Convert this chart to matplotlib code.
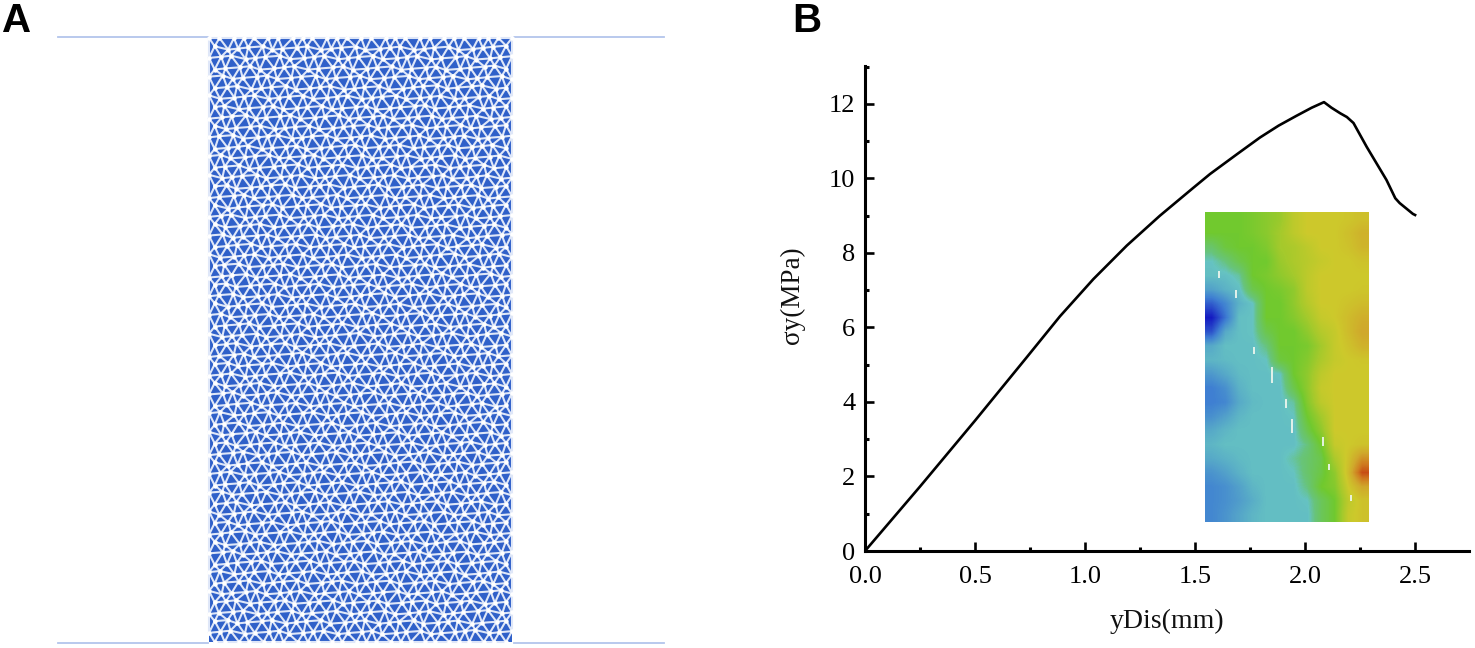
import numpy as np
import matplotlib
matplotlib.use("Agg")
import matplotlib.pyplot as plt
import matplotlib.tri as mtri
from matplotlib.colors import LinearSegmentedColormap

# curve
ydis = [0.0, 0.25, 0.5, 0.576, 0.735, 0.886, 1.038, 1.19, 1.34, 1.49, 1.568, 1.69, 1.795, 1.88, 1.96, 2.03,
        2.086, 2.12, 2.16, 2.19, 2.22, 2.28, 2.37, 2.41, 2.43, 2.49, 2.5]
sigma = [0.0, 1.73, 3.5, 4.05, 5.2, 6.3, 7.3, 8.2, 9.0, 9.74, 10.12, 10.65, 11.1, 11.42, 11.68, 11.9,
         12.05, 11.9, 11.75, 11.65, 11.49, 10.85, 9.96, 9.47, 9.34, 9.05, 9.02]
xticks = [0.0, 0.5, 1.0, 1.5, 2.0, 2.5]
yticks = [0, 2, 4, 6, 8, 10, 12]

# inset field, rough values by eye (0 dark blue .. 1 red)
field = [
    [.50, .50, .50, .52, .55, .58, .66, .70, .70, .70, .71, .73],
    [.50, .50, .50, .52, .55, .60, .66, .70, .70, .70, .73, .77],
    [.42, .48, .50, .50, .53, .60, .62, .66, .70, .70, .72, .76],
    [.36, .40, .46, .50, .50, .58, .62, .65, .68, .70, .70, .72],
    [.35, .35, .38, .50, .52, .56, .60, .66, .70, .70, .70, .70],
    [.28, .32, .35, .46, .50, .52, .56, .66, .70, .70, .70, .71],
    [.14, .22, .32, .36, .50, .50, .56, .64, .70, .70, .72, .74],
    [.02, .18, .35, .36, .50, .50, .54, .60, .68, .70, .74, .78],
    [.12, .30, .35, .36, .46, .50, .50, .56, .64, .68, .74, .80],
    [.30, .35, .35, .35, .40, .50, .50, .52, .60, .68, .72, .77],
    [.33, .34, .35, .35, .36, .48, .50, .54, .62, .68, .70, .71],
    [.26, .30, .34, .35, .35, .36, .50, .56, .66, .70, .70, .70],
    [.20, .24, .32, .35, .35, .35, .46, .56, .68, .70, .70, .70],
    [.20, .22, .30, .34, .35, .35, .38, .54, .66, .70, .70, .70],
    [.24, .28, .33, .35, .35, .35, .36, .50, .60, .70, .70, .70],
    [.30, .33, .35, .35, .35, .35, .35, .46, .56, .70, .70, .70],
    [.33, .35, .35, .35, .35, .35, .35, .40, .50, .68, .70, .72],
    [.30, .32, .34, .35, .35, .35, .38, .42, .46, .62, .72, .85],
    [.25, .28, .32, .35, .35, .35, .36, .42, .47, .56, .74, .97],
    [.22, .24, .28, .33, .35, .35, .35, .40, .50, .54, .70, .80],
    [.22, .24, .27, .31, .35, .35, .35, .36, .44, .50, .66, .72],
    [.22, .25, .29, .33, .35, .35, .35, .35, .44, .50, .68, .72],
]
# pale cracks along the front, in field cells (col, row top, row bottom)
crack_col = [0.5, 1.8, 3.1, 4.4, 5.4, 5.9, 8.1, 8.6, 10.2]
crack_top = [3.7, 5.0, 9.1, 10.5, 12.8, 14.2, 15.5, 17.4, 19.6]
crack_bot = [4.2, 5.6, 9.6, 11.6, 13.4, 15.2, 16.1, 17.8, 20.0]

W, H = 1475, 648

def box(x0, y0, x1, y1):
    # pixel box (y down) to figure fractions
    return [x0 / W, 1 - y1 / H, (x1 - x0) / W, (y1 - y0) / H]

plt.rcParams["font.family"] = ["Liberation Serif", "DejaVu Sans"]
fig = plt.figure(figsize=(14.75, 6.48), dpi=100)

# panel A, mesh texture in pixel coordinates
axa = fig.add_axes([0, 0, 1, 1])
axa.set_xlim(0, W)
axa.set_ylim(H, 0)
axa.axis("off")

step = 11.4
px = []
py = []
k = 0
rows = int(604 / (step * 0.87)) + 1
for r in range(rows + 1):
    yy = 38 + 604 * r / rows
    cols = int(303 / step)
    for c in range(cols + 1):
        xx = 209 + 303 * c / cols + (step / 2 if r % 2 else 0)
        k = k + 1
        if xx > 512:
            continue
        # golden ratio jitter, interior nodes only
        jx = ((k * 0.618034) % 1 - 0.5) * 4.5
        jy = ((k * 0.754878) % 1 - 0.5) * 4.5
        if c == 0 or xx + step > 512:
            jx = 0
        if r == 0 or r == rows:
            jy = 0
        px.append(min(xx + jx, 512))
        py.append(yy + jy)
tri = mtri.Triangulation(px, py)
axa.fill([209, 512, 512, 209], [38, 38, 642, 642], color="#2f60c9", lw=0, zorder=1)
axa.triplot(tri, color="#dfe7f8", lw=1.5, zorder=2)
axa.plot(px, py, "o", color="white", ms=3.2, mew=0, zorder=3)

line_col = "#b3c5ec"
axa.plot([58, 208], [37, 37], color=line_col, lw=1.3)
axa.plot([514, 664], [37, 37], color=line_col, lw=1.3)
axa.plot([58, 208], [643, 643], color=line_col, lw=1.3)
axa.plot([514, 664], [643, 643], color=line_col, lw=1.3)

fig.text(2 / W, 1 - 32 / H, "A", family="Liberation Sans", weight="bold", fontsize=29, color="black")
fig.text(792 / W, 1 - 32 / H, "B", family="Liberation Sans", weight="bold", fontsize=29, color="black")

# panel B
ax = fig.add_axes(box(865, 66, 1469, 551))
ax.patch.set_alpha(0)
ax.plot(ydis, sigma, color="black", lw=1.9, solid_joinstyle="round")
ax.set_xlim(0, 2.745)
ax.set_ylim(0, 13.02)
ax.spines["top"].set_visible(False)
ax.spines["right"].set_visible(False)
ax.spines["left"].set_linewidth(2.2)
ax.spines["bottom"].set_linewidth(2.2)
ax.set_xticks(xticks)
ax.set_xticklabels(["%.1f" % v for v in xticks])
ax.set_yticks(yticks)
ax.set_xticks(np.arange(0.25, 2.75, 0.5), minor=True)
ax.set_yticks(np.arange(1, 14, 2), minor=True)
ax.tick_params(which="major", direction="in", length=6.5, width=1.9, labelsize=19, pad=11, colors="black")
ax.tick_params(which="minor", direction="in", length=3, width=2.2)
ax.tick_params(axis="y", which="major", pad=7)

fig.text(1167 / W, 1 - 621 / H, "yDis(mm)", ha="center", va="center", fontsize=20, color="#111111")
fig.text(792 / W, 1 - 295 / H, "σy(MPa)", ha="center", va="center", rotation=90, fontsize=19.5, color="#111111")

# inset contour picture
cols_map = [(0.0, "#1010c0"), (0.2, "#3f7fd2"), (0.36, "#66c3c2"), (0.4, "#68c47a"),
            (0.5, "#70c92f"), (0.6, "#a4ca2c"), (0.7, "#cdc92b"), (0.8, "#d0a82c"),
            (0.9, "#cf7a20"), (1.0, "#c43c10")]
cmap = LinearSegmentedColormap.from_list("field", cols_map)
axi = fig.add_axes(box(1205, 212, 1369, 522))
axi.imshow(np.array(field), cmap=cmap, vmin=0, vmax=1, aspect="auto", interpolation="bilinear")
axi.vlines(crack_col, crack_top, crack_bot, color="#eef6ee", lw=1.3)
axi.axis("off")

fig.savefig("out.png", dpi=100)
